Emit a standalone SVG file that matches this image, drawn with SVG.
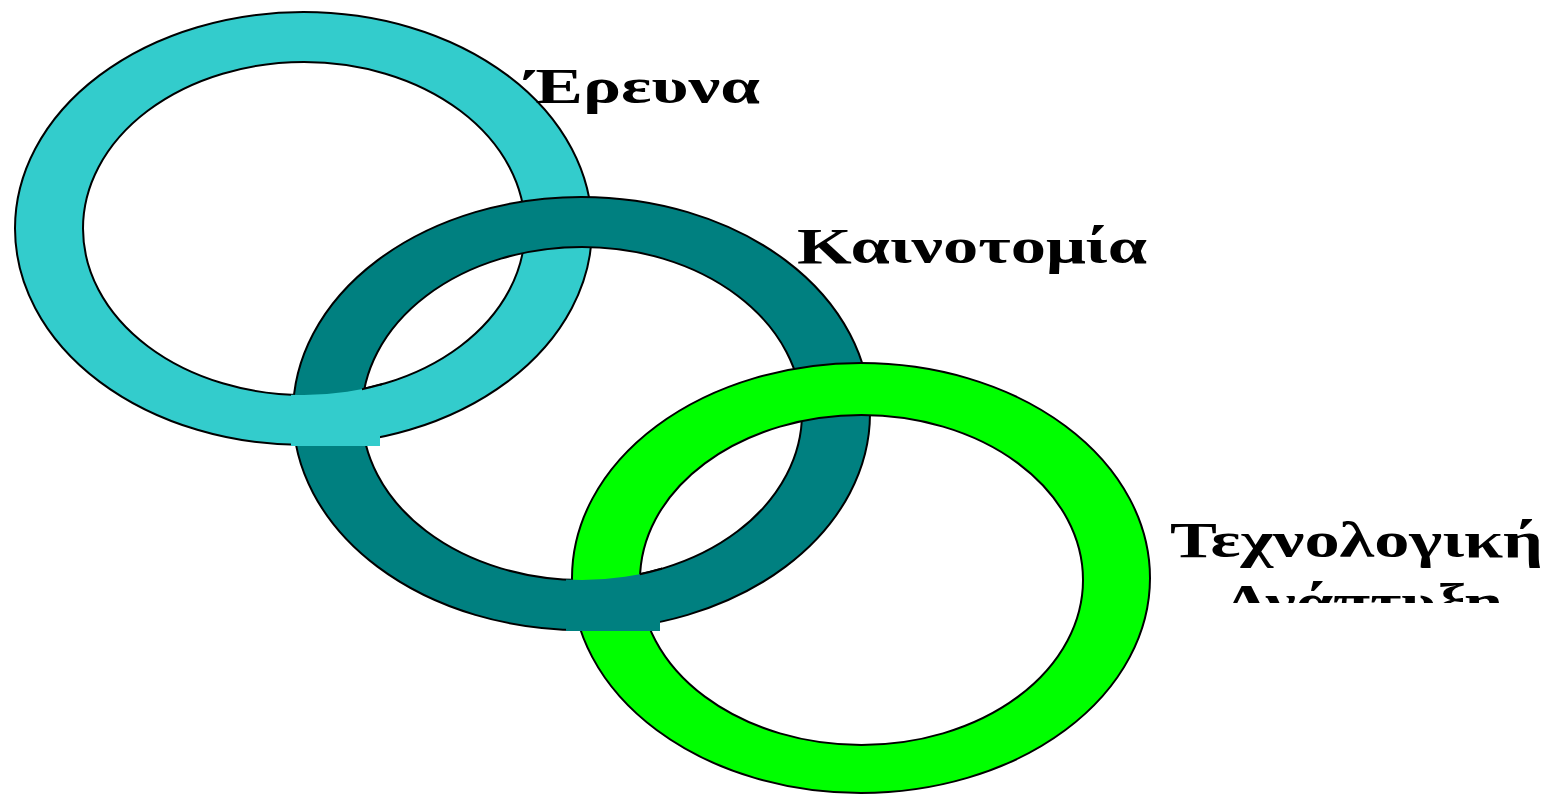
<svg xmlns="http://www.w3.org/2000/svg" width="1553" height="794" viewBox="0 0 1553 794">
<style>
.ring{stroke:#000;stroke-width:2;fill-rule:evenodd}
.lbl{font-family:"Liberation Serif","Times New Roman",serif;font-weight:bold;font-size:51px;fill:#000}
</style>
<defs>
<clipPath id="cp1"><rect x="291" y="380" width="89" height="66"/></clipPath>
<clipPath id="cp1s"><rect x="362" y="370" width="20" height="30"/></clipPath>
<clipPath id="cp2"><rect x="566" y="560" width="94" height="71"/></clipPath>
<clipPath id="cp2s"><rect x="640" y="555" width="22" height="30"/></clipPath>
<clipPath id="cpt"><rect x="1150" y="560" width="403" height="43"/></clipPath>
</defs>
<rect width="1553" height="794" fill="#fff"/>
<g id="ring-erevna">
<path class="ring" fill="#33CCCC" d="M15,228.5a288.5,216.5 0 1,0 577,0a288.5,216.5 0 1,0 -577,0Z M83,228.5a221,166.5 0 1,0 442,0a221,166.5 0 1,0 -442,0Z"/>
</g>
<g id="ring-kainotomia">
<path class="ring" fill="#008080" d="M293,413.5a288.5,216.5 0 1,0 577,0a288.5,216.5 0 1,0 -577,0Z M362,413.5a220,166.5 0 1,0 440,0a220,166.5 0 1,0 -440,0Z"/>
</g>
<g id="ring-texnologiki">
<path class="ring" fill="#00FF00" d="M572,578a289,215 0 1,0 578,0a289,215 0 1,0 -578,0Z M640,580a221.5,165 0 1,0 443,0a221.5,165 0 1,0 -443,0Z"/>
</g>
<g id="interlock-1">
<path fill="#33CCCC" fill-rule="evenodd" clip-path="url(#cp1)" d="M0,0H1553V794H0Z M83,228.5a221,166.5 0 1,0 442,0a221,166.5 0 1,0 -442,0Z"/>
<ellipse cx="304" cy="228.5" rx="221" ry="166.5" fill="none" stroke="#000" stroke-width="2" clip-path="url(#cp1s)"/>
</g>
<g id="interlock-2">
<path fill="#008080" fill-rule="evenodd" clip-path="url(#cp2)" d="M0,0H1553V794H0Z M362,413.5a220,166.5 0 1,0 440,0a220,166.5 0 1,0 -440,0Z"/>
<ellipse cx="582" cy="413.5" rx="220" ry="166.5" fill="none" stroke="#000" stroke-width="2" clip-path="url(#cp2s)"/>
</g>
<g id="labels">
<text class="lbl" x="526" y="103" textLength="234" lengthAdjust="spacingAndGlyphs">Έρευνα</text>
<text class="lbl" x="797" y="263" textLength="350" lengthAdjust="spacingAndGlyphs">Καινοτομία</text>
<text class="lbl" x="1170" y="557" textLength="373" lengthAdjust="spacingAndGlyphs">Τεχνολογική</text>
<text class="lbl" x="1222" y="619" textLength="281" lengthAdjust="spacingAndGlyphs" clip-path="url(#cpt)">Ανάπτυξη</text>
</g>
<g id="connectors"/>
</svg>
